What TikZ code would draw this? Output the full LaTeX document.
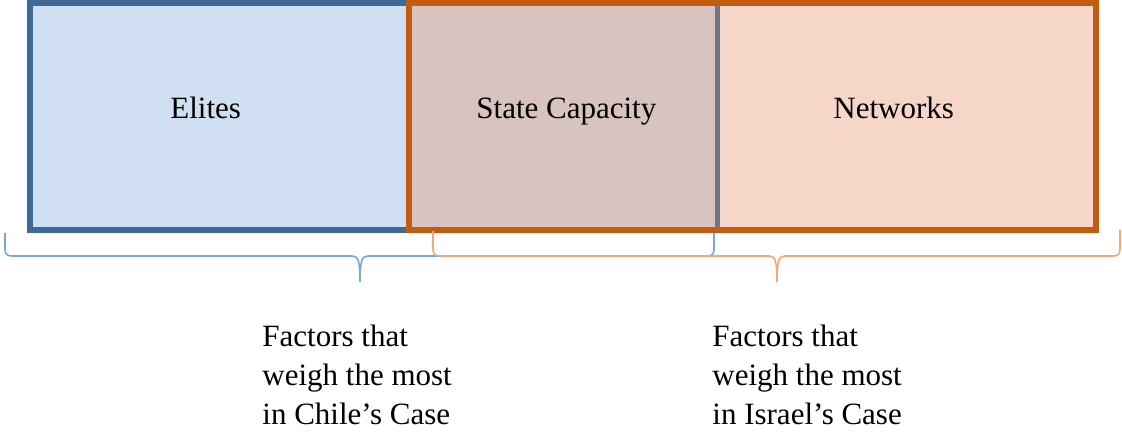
\documentclass[tikz,border=0pt]{standalone}
\usepackage{fontspec}
\setmainfont{Liberation Serif}
\definecolor{bluefill}{HTML}{D0E0F2}
\definecolor{overlapfill}{HTML}{D8C3BE}
\definecolor{peachfill}{HTML}{F6D6C8}
\definecolor{blueborder}{HTML}{3E6A97}
\definecolor{orangeborder}{HTML}{C55A11}
\definecolor{grayborder}{HTML}{6E7480}
\definecolor{bluebrace}{HTML}{74A9DF}
\definecolor{orangebrace}{HTML}{F3A777}
\tikzset{
  boxlabel/.style={anchor=base west, inner sep=0pt, font=\fontsize{15.5}{18.8}\selectfont},
  caselabel/.style={anchor=base west, inner sep=0pt, align=left, font=\fontsize{15.5}{19.3}\selectfont},
  thickborder/.style={line width=3pt},
  bracelineblue/.style={draw=bluebrace, line width=0.8pt},
  bracelineorange/.style={draw=orangebrace, line width=0.8pt},
}
\begin{document}
\begin{tikzpicture}[x=0.5pt,y=-0.5pt]
\useasboundingbox (0,0) rectangle (1122,432);
% fills
\fill[bluefill] (30,3) rectangle (717,230);
\fill[overlapfill] (409,3) rectangle (717,230);
\fill[peachfill] (717,3) rectangle (1096,230);
% borders
\draw[blueborder, thickborder] (409,3) -- (30,3) -- (30,230) -- (409,230);
\draw[grayborder, line width=2.5pt] (717,3) -- (717,230);
\draw[orangeborder, thickborder] (409,3) rectangle (1096,230);
% labels
\node[boxlabel] (elites) at (170,119) {Elites};
\node[boxlabel] (state) at (476,119) {State Capacity};
\node[boxlabel] (networks) at (833,119) {Networks};
% brace end points
\coordinate (bA) at (5,233);
\coordinate (bB) at (714,233);
\coordinate (bT) at (360,282);
\coordinate (oA) at (433,231);
\coordinate (oB) at (1120,230);
\coordinate (oT) at (777,282);
% blue brace
\draw[bracelineblue] (bA) -- (5,249) .. controls (5,254) and (7,256) .. (12,256)
  -- (352,256) .. controls (358,256) and (360,260) .. (bT)
  .. controls (360,260) and (362,256) .. (368,256)
  -- (707,256) .. controls (712,256) and (714,254) .. (714,249) -- (bB);
% orange brace
\draw[bracelineorange] (oA) -- (433,249) .. controls (433,254) and (435,256) .. (440,256)
  -- (769,256) .. controls (775,256) and (777,260) .. (oT)
  .. controls (777,260) and (779,256) .. (785,256)
  -- (1113,256) .. controls (1118,256) and (1120,254) .. (1120,249) -- (oB);
% case labels
\node[caselabel] (chile) at (262,424) {Factors that\\weigh the most\\in Chile’s Case};
\node[caselabel] (israel) at (712,424) {Factors that\\weigh the most\\in Israel’s Case};
\end{tikzpicture}
\end{document}
